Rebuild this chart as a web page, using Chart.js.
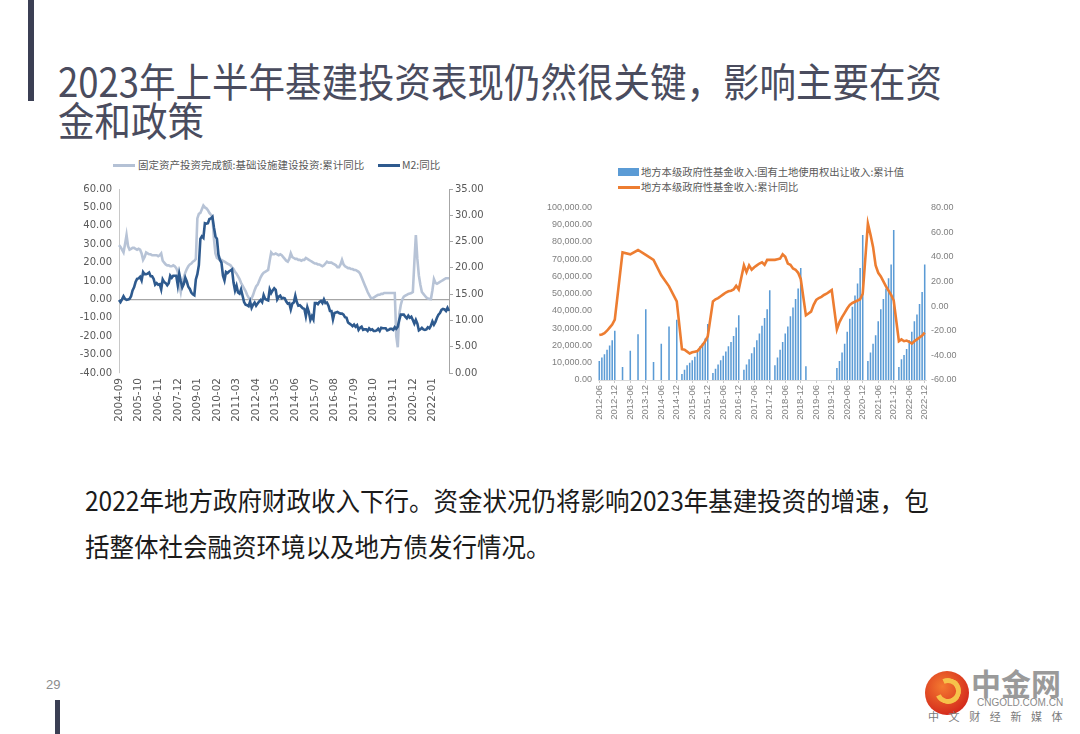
<!DOCTYPE html>
<html>
<head>
<meta charset="utf-8">
<script src="https://cdn.jsdelivr.net/npm/chart.js@4.4.1/dist/chart.umd.min.js"></script>
<style>
  html,body{margin:0;padding:0;}
  body{width:1080px;height:734px;background:#fff;position:relative;overflow:hidden;font-family:"Noto Sans CJK SC","Noto Sans",sans-serif;}
  .abs{position:absolute;}
  .bar{background:#3b3f54;}
  .title{left:58px;font-size:36.5px;line-height:36px;color:#4a4c5e;font-weight:400;white-space:nowrap;transform:scaleY(1.1);transform-origin:left center;}
  .body{left:85px;font-size:24.5px;line-height:30px;color:#1b1b1b;white-space:nowrap;transform:scaleY(1.08);transform-origin:left center;}
  .lg{font-size:10.5px;line-height:14px;color:#595959;white-space:nowrap;}
  .lg2{font-size:10.3px;line-height:14px;color:#595959;white-space:nowrap;}
</style>
</head>
<body>
  <div class="abs bar" style="left:28px;top:0;width:6px;height:101px;"></div>
  <div class="abs title" style="top:63px;">2023年上半年基建投资表现仍然很关键，影响主要在资</div>
  <div class="abs title" style="top:102px;">金和政策</div>

  <!-- left chart legend -->
  <div class="abs" style="left:113px;top:164px;width:22px;height:3px;background:#b4c1d5;"></div>
  <div class="abs lg" style="left:138px;top:158px;">固定资产投资完成额:基础设施建设投资:累计同比</div>
  <div class="abs" style="left:378px;top:164px;width:22px;height:3px;background:#2e5a8e;"></div>
  <div class="abs lg" style="left:402px;top:158px;">M2:同比</div>
  <canvas id="cL" class="abs" style="left:80px;top:176px;" width="410" height="260"></canvas>

  <!-- right chart legend -->
  <div class="abs" style="left:618px;top:168px;width:21px;height:8px;background:#5b9bd5;"></div>
  <div class="abs lg2" style="left:641px;top:165px;">地方本级政府性基金收入:国有土地使用权出让收入:累计值</div>
  <div class="abs" style="left:618px;top:186px;width:22px;height:3px;background:#ed7d31;"></div>
  <div class="abs lg2" style="left:641px;top:180px;">地方本级政府性基金收入:累计同比</div>
  <canvas id="cR" class="abs" style="left:540px;top:195px;" width="420" height="245"></canvas>

  <div class="abs body" style="top:485px;">2022年地方政府财政收入下行。资金状况仍将影响2023年基建投资的增速，包</div>
  <div class="abs body" style="top:531px;">括整体社会融资环境以及地方债发行情况。</div>

  <div class="abs" style="left:46px;top:677px;font-size:13px;line-height:16px;color:#8c8c8c;font-family:'Liberation Sans',sans-serif;">29</div>
  <div class="abs bar" style="left:55px;top:700px;width:5px;height:34px;"></div>

  <!-- logo -->
  <div class="abs" style="left:925px;top:671px;width:44px;height:44px;border-radius:50%;background:radial-gradient(circle at 40% 35%,#f47a30,#d42a1c 75%);"></div>
  <div class="abs" style="left:935px;top:678px;width:16px;height:16px;border-radius:50%;border:5px solid #f6c24a;border-left-color:transparent;transform:rotate(20deg);"></div>
  <div class="abs" style="left:971px;top:664px;font-size:30px;line-height:36px;font-weight:700;color:#9a9a9a;white-space:nowrap;">中金网</div>
  <div class="abs" style="left:977px;top:697px;font-size:10px;line-height:12px;color:#8a8a8a;font-family:'Liberation Sans',sans-serif;white-space:nowrap;">CNGOLD.COM.CN</div>
  <div class="abs" style="left:928px;top:709px;font-size:11px;line-height:14px;color:#7a7a7a;letter-spacing:9.6px;white-space:nowrap;">中文财经新媒体</div>

<script>
// ---------- data: left chart (monthly 2004-09 .. 2022-12) ----------
const infraYoY = [
  29.5, 28.5, 27, 25.5,                                   // 2004 Sep-Dec
  30, 35, 29, 27, 27.5, 28, 28, 27.5, 27, 27.5, 27, 25,   // 2005
  21.5, 23, 25.5, 25, 24.5, 24.5, 24, 24, 24, 24, 23.5, 24, // 2006
  25, 21, 20, 19, 18.5, 18.5, 18, 18, 18.5, 18, 17, 15,   // 2007
  8, 4, 9, 12, 14.5, 16.5, 18, 19, 19.5, 20.5, 21, 22,    // 2008
  44, 46.5, 47, 49, 51, 50, 49.5, 48.5, 47, 46, 45, 33,   // 2009
  25, 22.5, 22, 21.5, 21.5, 21, 20.5, 20, 19.5, 19, 18.5, 17.5, // 2010
  16.5, 15, 14, 12.5, 11, 9, 7.5, 6, 4.5, 2.5, 1, 0,      // 2011
  0.5, 2.5, 5, 7, 8, 10, 12, 13.5, 14.5, 15, 15.5, 16,    // 2012
  21, 25.5, 24.5, 24.5, 25, 24.5, 24, 24.5, 24, 23, 22, 21, // 2013
  20.5, 22, 25, 23, 22.5, 22, 22, 21.5, 21.5, 21, 21.5, 21.5, // 2014
  22.5, 22, 21.5, 21, 20.5, 20, 19.5, 19.5, 19, 19, 18.5, 18, // 2015
  18.5, 19.5, 20.5, 20, 20, 20, 19.5, 19, 18.5, 17.5, 17.5, 19, // 2016
  21.5, 19, 18, 17.5, 17, 17, 16.5, 16.5, 16, 16, 15.5, 15, // 2017
  14, 12, 10, 8, 6, 4, 2.5, 1, 0.5, 1, 1.5, 2,            // 2018
  2.5, 2.5, 3, 3, 3.5, 3.5, 3.5, 3.5, 3.5, 3.5, 3.5, 3.5, // 2019
  -20, -26, -8, -3, 0, 1.5, 2, 2.5, 3, 3.2, 3.5, 4,       // 2020
  20, 35, 22, 13, 8, 4, 3, 2, 1, 0.5, 0.3, 0.2,           // 2021
  5, 11, 9, 8.5, 9, 9.5, 10, 10.5, 11, 11.5, 11.5, 11.5   // 2022
];
const m2YoY = [
  13.9, 13.5, 14.0, 14.6,
  14.1, 13.9, 14.0, 14.1, 14.6, 15.7, 16.3, 17.3, 17.9, 18.0, 18.3, 17.6,
  19.2, 18.8, 18.8, 18.9, 19.1, 18.4, 18.4, 17.9, 16.8, 17.1, 16.8, 16.9,
  15.9, 17.8, 17.3, 17.1, 16.7, 17.1, 18.5, 18.1, 18.5, 18.5, 18.5, 16.7,
  18.9, 17.5, 16.3, 16.9, 18.1, 17.4, 16.4, 16.0, 15.3, 15.0, 14.8, 17.8,
  18.8, 20.5, 25.5, 26.0, 25.7, 28.5, 28.4, 28.5, 29.3, 29.4, 29.7, 27.7,
  26.0, 25.5, 22.5, 21.5, 21.0, 18.5, 17.6, 19.2, 19.0, 19.3, 19.5, 19.7,
  17.2, 15.7, 16.6, 15.3, 15.1, 15.9, 14.7, 13.5, 13.0, 12.9, 12.7, 13.6,
  12.4, 13.0, 13.4, 12.8, 13.2, 13.6, 13.9, 13.5, 14.8, 14.1, 13.9, 13.8,
  15.9, 15.2, 15.7, 16.1, 15.8, 14.0, 14.5, 14.7, 14.2, 14.3, 14.2, 13.6,
  13.2, 13.3, 12.1, 13.2, 13.4, 14.7, 13.5, 12.8, 12.9, 12.6, 12.3, 12.2,
  10.8, 12.5, 11.6, 10.1, 10.8, 10.2, 13.3, 13.3, 13.1, 13.5, 13.7, 13.3,
  14.0, 13.3, 13.4, 12.8, 11.8, 11.8, 10.2, 11.4, 11.5, 11.6, 11.4, 11.3,
  11.3, 11.1, 10.6, 10.5, 9.6, 9.4, 9.2, 8.9, 9.2, 8.8, 9.1, 8.2,
  8.6, 8.8, 8.2, 8.3, 8.3, 8.0, 8.5, 8.2, 8.3, 8.0, 8.0, 8.1,
  8.4, 8.0, 8.6, 8.5, 8.5, 8.5, 8.1, 8.2, 8.4, 8.4, 8.2, 8.7,
  8.4, 8.8, 10.1, 11.1, 11.1, 11.1, 10.7, 10.4, 10.9, 10.5, 10.7, 10.1,
  9.4, 10.1, 9.4, 8.1, 8.3, 8.6, 8.3, 8.2, 8.3, 8.7, 8.5, 9.0,
  9.8, 9.2, 9.7, 10.5, 11.1, 11.4, 12.0, 12.2, 12.1, 11.8, 12.4, 11.8
];
const leftAxisTicks = {min: -40, max: 60, step: 10};
const rightAxisTicks = {min: 0, max: 35, step: 5};

// ---------- data: right chart (monthly 2012-06 .. 2022-12) ----------
const landRevenue = [
  11000, 13000, 15000, 17500, 20000, 23000, 28500,        // 2012 Jun-Dec
  null, null, 7500, null, null, 17000, null, null, 26500, null, null, 41000, // 2013
  null, null, 10500, null, null, 21000, null, null, 31000, null, null, 35000, // 2014
  null, 3500, 6000, 8500, 10000, 11500, 13500, 16500, 19500, 21500, 24000, 32500, // 2015
  null, 4000, 6500, 9000, 11500, 14000, 16500, 19500, 22000, 25500, 30500, 37500, // 2016
  null, 6000, 9000, 12000, 15500, 19000, 23000, 27000, 31500, 36000, 41000, 52000, // 2017
  null, 8500, 13000, 17500, 22000, 27000, 31000, 37000, 42000, 47000, 53000, 65000, // 2018
  null, 8000, null, null, null, null, null, null, null, null, null, null,  // 2019
  null, 7000, 11000, 16000, 21000, 28000, 35500, 42500, 49000, 56000, 65000, 84000, // 2020
  null, 11000, 16000, 21000, 26000, 34000, 41000, 47000, 53000, 59000, 67000, 87000, // 2021
  null, 7500, 12000, 14500, 18000, 23000, 28000, 34000, 38000, 44000, 51000, 67000  // 2022
];
const fundYoY = [
  -23.5, -23, -22, -20, -17.5, -15, -11,
  null, null, 43.5, null, null, 42, null, null, 45.5, null, null, 41.5,
  null, null, 37.5, null, null, 25, null, null, 16, null, null, 3.8,
  null, -35, -35.5, -37, -38.5, -37.5, -37, -36.5, -34, -31.5, -28.5, -24.5,
  null, 3.8, 5.5, 6.5, 8, 9.5, 11, 12, 12.5, 13.5, 16.5, 13.5,
  null, 33, 27.5, 33, 29.5, 31.5, 33, 34.5, 35.5, 33.5, 37.5, 37.5,
  null, 37.5, 38, 38.5, 42, 40, 34.5, 33.5, 30.5, 29.5, 27, 22,
  null, -7.5, -6, -4.5, 1, 5, 6.5, 7.5, 9, 10, 11.5, 13,
  null, -19, -13, -9, -5.5, -2, 1, 2.5, 3.5, 4.5, 5.5, 10,
  null, 67, 58, 48, 33, 27, 24, 20, 16, 12.5, 9, 4.5,
  null, -28.5, -27, -28.5, -28, -29, -30.5, -28.5, -27, -25.5, -24, -21.5
];
const revAxisTicks = {min: 0, max: 100000, step: 10000};
const yoyAxisTicks = {min: -60, max: 80, step: 20};

function monthRange(y0, m0, y1, m1) {
  const out = [];
  let y = y0, m = m0;
  while (y < y1 || (y === y1 && m <= m1)) {
    out.push(y + '-' + String(m).padStart(2, '0'));
    m++; if (m > 12) { m = 1; y++; }
  }
  return out;
}
const monthsL = monthRange(2004, 9, 2022, 12);
const monthsR = monthRange(2012, 6, 2022, 12);
const labelEveryL = 13;
const labelEveryR = 6;

Chart.defaults.font.family = "'DejaVu Sans', sans-serif";
Chart.defaults.animation = false;

// ---------- left chart ----------
new Chart(document.getElementById('cL'), {
  type: 'line',
  data: {
    labels: monthsL,
    datasets: [
      {label: '固定资产投资完成额:基础设施建设投资:累计同比', data: infraYoY, yAxisID: 'y',
       borderColor: '#b7c3d6', borderWidth: 2.6, pointRadius: 0, tension: 0, order: 1},
      {label: 'M2:同比', data: m2YoY, yAxisID: 'y1',
       borderColor: '#2e5a8e', borderWidth: 2.6, pointRadius: 0, tension: 0, order: 0}
    ]
  },
  options: {
    responsive: false,
    animation: false,
    layout: {padding: {top: 10, left: 0, right: 0, bottom: 0}},
    plugins: {legend: {display: false}, tooltip: {enabled: false}},
    scales: {
      x: {
        offset: false,
        grid: {display: false, drawTicks: false},
        border: {display: false},
        ticks: {autoSkip: false, minRotation: 90, maxRotation: 90, padding: 5,
                color: '#595959', font: {size: 10.5, family: "'DejaVu Sans', sans-serif"},
                callback: (v, i) => (i % labelEveryL === 0 ? monthsL[i] : '')},
        afterFit: s => { s.height = 63; }
      },
      y: {
        position: 'left',
        min: leftAxisTicks.min, max: leftAxisTicks.max,
        ticks: {stepSize: leftAxisTicks.step, padding: 7, color: '#595959',
                font: {size: 10}, callback: v => Number(v).toFixed(2)},
        grid: {drawTicks: false, color: c => (c.tick && c.tick.value === 0 ? '#a6a6a6' : 'rgba(0,0,0,0)'), lineWidth: 1.2},
        border: {display: true, color: '#c8c8c8', width: 1},
        afterFit: s => { s.width = 39; }
      },
      y1: {
        position: 'right',
        min: rightAxisTicks.min, max: rightAxisTicks.max,
        ticks: {stepSize: rightAxisTicks.step, padding: 2, color: '#595959',
                font: {size: 10}, callback: v => Number(v).toFixed(2)},
        grid: {drawOnChartArea: false, drawTicks: true, tickLength: 4, color: '#a6a6a6'},
        border: {display: true, color: '#a6a6a6', width: 1},
        afterFit: s => { s.width = 41; }
      }
    }
  }
});

// ---------- right chart ----------
new Chart(document.getElementById('cR'), {
  type: 'bar',
  data: {
    labels: monthsR,
    datasets: [
      {type: 'line', label: '地方本级政府性基金收入:累计同比', data: fundYoY, yAxisID: 'y1',
       borderColor: '#ed7d31', borderWidth: 2.6, pointRadius: 0, tension: 0, spanGaps: true, order: 0},
      {type: 'bar', label: '地方本级政府性基金收入:国有土地使用权出让收入:累计值', data: landRevenue, yAxisID: 'y',
       backgroundColor: '#5b9bd5', barPercentage: 0.6, categoryPercentage: 1, order: 1}
    ]
  },
  options: {
    responsive: false,
    animation: false,
    layout: {padding: {top: 12.5, left: 0, right: 0, bottom: 0}},
    plugins: {legend: {display: false}, tooltip: {enabled: false}},
    scales: {
      x: {
        offset: true,
        grid: {display: true, drawOnChartArea: false, drawTicks: true, tickLength: 3, offset: false,
               color: c => (c.index % labelEveryR === 0 ? '#c8c8c8' : 'rgba(0,0,0,0)')},
        border: {display: true, color: '#d9d9d9'},
        ticks: {autoSkip: false, minRotation: 90, maxRotation: 90, padding: 2,
                color: '#7f7f7f', font: {size: 9.5, family: "'Liberation Sans', sans-serif"},
                callback: (v, i) => (i % labelEveryR === 0 ? monthsR[i] : '')},
        afterFit: s => { s.height = 60; }
      },
      y: {
        position: 'left',
        min: revAxisTicks.min, max: revAxisTicks.max,
        ticks: {stepSize: revAxisTicks.step, padding: 6, color: '#7f7f7f',
                font: {size: 9, family: "'Liberation Sans', sans-serif"},
                callback: v => Number(v).toLocaleString('en-US', {minimumFractionDigits: 2, maximumFractionDigits: 2})},
        grid: {display: false, drawTicks: false},
        border: {display: false},
        afterFit: s => { s.width = 58; }
      },
      y1: {
        position: 'right',
        min: yoyAxisTicks.min, max: yoyAxisTicks.max,
        ticks: {stepSize: yoyAxisTicks.step, padding: 5, color: '#7f7f7f',
                font: {size: 9, family: "'Liberation Sans', sans-serif"},
                callback: v => Number(v).toFixed(2)},
        grid: {display: false, drawTicks: false},
        border: {display: false},
        afterFit: s => { s.width = 34; }
      }
    }
  }
});
</script>
</body>
</html>
